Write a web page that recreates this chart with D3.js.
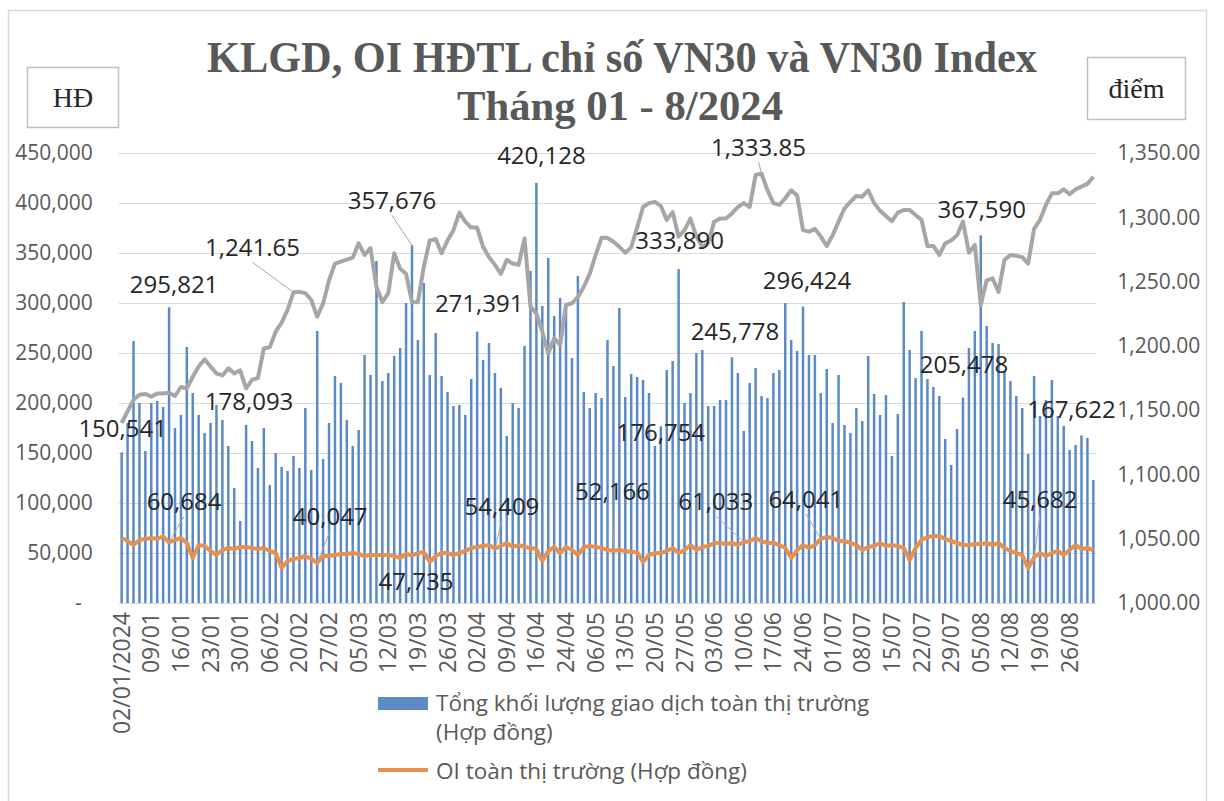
<!DOCTYPE html>
<html><head><meta charset="utf-8">
<script src="https://cdn.jsdelivr.net/npm/d3@7"></script>
<style>
html,body{margin:0;padding:0;background:#fff;}
svg{display:block;}
</style></head>
<body>
<svg id="chart" width="1224" height="801"></svg>
<script>
// ---------- DATA ----------
const months = [
  ["01", ["02","03","04","05","08","09","10","11","12","15","16","17","18","19","22","23","24","25","26","29","30","31"]],
  ["02", ["01","02","05","06","07","15","16","19","20","21","22","23","26","27","28","29"]],
  ["03", ["01","04","05","06","07","08","11","12","13","14","15","18","19","20","21","22","25","26","27","28","29"]],
  ["04", ["01","02","03","04","05","08","09","10","11","12","15","16","17","19","22","23","24","25","26"]],
  ["05", ["02","03","06","07","08","09","10","13","14","15","16","17","20","21","22","23","24","27","28","29","30","31"]],
  ["06", ["03","04","05","06","07","10","11","12","13","14","17","18","19","20","21","24","25","26","27","28"]],
  ["07", ["01","02","03","04","05","08","09","10","11","12","15","16","17","18","19","22","23","24","25","26","29","30","31"]],
  ["08", ["01","02","05","06","07","08","09","12","13","14","15","16","19","20","21","22","23","26","27","28","29","30"]]
];
const dates = [];
months.forEach(([m, days]) => days.forEach(d => dates.push(d + "/" + m)));

const tickLabels = ["02/01/2024","09/01","16/01","23/01","30/01","06/02","20/02","27/02","05/03","12/03",
  "19/03","26/03","02/04","09/04","16/04","24/04","06/05","13/05","20/05","27/05","03/06","10/06","17/06",
  "24/06","01/07","08/07","15/07","22/07","29/07","05/08","12/08","19/08","26/08"];

const volume = [
150541,180000,262000,200000,152000,200000,202000,196000,295821,175000,
188000,256000,210000,188000,170000,180000,198000,183000,157000,115000,
82000,178093,162000,135000,175000,118000,150000,136000,132000,147000,
135000,195000,133000,272000,144000,180000,227000,220000,183000,157000,
173000,248000,228000,342000,222000,230000,247000,255000,300000,357676,
263000,320000,228000,270000,227000,211000,197000,198000,188000,224000,
271391,243000,260000,230000,215000,167000,200000,195000,257000,332000,
420128,297000,345000,287000,305000,295000,245000,327000,211000,195000,
210000,205000,263000,237000,295000,206000,229000,226000,223000,210000,
157000,176754,233000,242000,333890,200000,210000,250000,253000,197000,
197000,203000,203000,245778,230000,172000,220000,235000,207000,205000,
230000,233000,300000,263000,252000,296424,248000,248000,210000,234000,
180000,228000,178000,170000,195000,182000,247000,209000,188000,208000,
147000,189000,301000,253000,225000,272000,224000,216000,207000,164000,
138000,174000,205478,255000,272000,367590,277000,260000,259000,232000,
222000,207000,195000,149000,227000,187000,203000,223000,187000,177000,
153000,158000,167622,165000,123000];

const openInterest = [
65000,62000,58000,63000,64000,65000,64000,66700,60684,63000,
65000,60000,45000,58000,57000,52000,48000,53000,55000,54000,
56000,56000,55000,54000,55000,52000,50000,35000,42000,44000,
45000,47000,44000,40047,47000,47000,48000,49000,49000,50000,
49000,47000,48000,48000,48000,48000,47000,45000,49000,47735,
50000,51000,41000,47000,50000,50000,48000,50000,52000,55000,
56000,57000,58000,54409,57000,60000,56000,58000,56000,55000,
54000,42000,52000,56000,50000,56000,53000,48000,56000,57000,
56000,55000,53000,52166,53000,52000,51000,51000,41000,48000,
50000,50000,52000,55000,50000,53000,58000,53000,56000,57000,
60000,60000,59000,60000,58000,61033,61700,65000,61700,60000,
60000,58000,55000,45000,52700,58000,55000,58000,64041,66000,
65000,62000,62000,60000,58000,53000,56000,57000,60000,57000,
58000,57000,55000,43000,55000,63000,66000,67000,67000,64000,
62000,60000,58000,58000,59000,59000,60000,58000,60000,55000,
52000,50000,48000,35000,45682,50000,47000,50000,52000,48000,
53000,58000,54000,55000,53000];

const vn30 = [
1140,1149,1158,1162,1162.6,1160.5,1163,1163,1163.6,1161,
1168,1167,1176,1184,1189.5,1184,1178.6,1177,1182.5,1178.6,
1181,1167,1173.5,1175,1198,1199,1211,1218,1228,1241.65,
1242,1241,1235.7,1222.7,1233,1251,1264,1265.5,1267,1268.6,
1279.7,1270.7,1276,1246,1234,1241,1272,1260,1256,1234,
1234,1261.6,1282,1283,1272,1282,1290,1303.6,1296.6,1292,
1292,1277,1269,1263,1256,1267,1264,1263,1283.6,1230.5,
1225,1211,1194,1206,1200.7,1232,1233,1238,1246,1256,
1270.7,1284,1284,1281,1277,1272.5,1276.6,1292,1308,1311,
1312,1308.8,1298,1304,1285,1290,1299,1285,1277,1280,
1296.6,1299,1299,1303,1308,1311,1308,1333,1333.85,1321,
1311,1309.6,1314.8,1321,1317,1290,1288.8,1291,1285,1277.7,
1286,1296.6,1307,1312,1316.6,1316,1321,1311,1305,1301,
1297,1303.6,1305.7,1305.7,1301.8,1298,1277.7,1277.7,1270.7,1279.7,
1282,1286,1296.6,1272.5,1278.5,1231.8,1251,1252.5,1242,1266.8,
1270.7,1270,1269,1264,1291,1298,1309.6,1318.6,1318.6,1321.7,
1318,1321.7,1323.8,1326,1331.6];

const leftTicks = [0,50000,100000,150000,200000,250000,300000,350000,400000,450000];
const rightTicks = [1000,1050,1100,1150,1200,1250,1300,1350];

// data labels: series, index into the series (values come from the arrays)
const labeledVolume = [0,8,21,49,60,70,91,94,103,115,142,145,162];
const labeledOI = [8,33,49,63,83,105,118,154];
const labeledVN30 = [29,108];

// ---------- LAYOUT / STYLE ----------
const C = {bar:"#5b8ac5", oi:"#e6914e", vn:"#a6a6a6", grid:"#d9d9d9", axisText:"#595959", label:"#262626"};
const plot = {left:118.7, right:1096.3, top:153, bottom:603};
// label offsets relative to their data point (dx, dy to baseline, leader line?)
const labelLayout = {
  volume: {0:[1,-15],8:[5,-14],21:[3,-15],49:[-20,-36,true],60:[2,-20],70:[5,-19],91:[0,15],94:[1,-20],
           103:[3,-17],115:[4,-18],142:[1,-25],145:[1,-17],162:[-10,-17]},
  oi: {8:[15,-32,true],33:[13,-38,true],49:[4,35],63:[7,-34,true],83:[-1,-51,true],105:[-28,-32,true],
       118:[-15,-31,true],154:[6,-49,true]},
  vn: {29:[-41,-36,true],108:[-3,-18,true]}
};

const svg = d3.select("#chart");

const x = d3.scaleBand().domain(dates).range([plot.left, plot.right]).paddingInner(0).paddingOuter(0);
const cx = d => x(d) + x.bandwidth()/2;
const yL = d3.scaleLinear().domain([0,450000]).range([plot.bottom, plot.top]);
const yR = d3.scaleLinear().domain([1000,1350]).range([plot.bottom, plot.top]);

// outer frame
svg.append("rect").attr("x",8.5).attr("y",10.5).attr("width",1198).attr("height",800)
  .attr("fill","#fff").attr("stroke","#d9d9d9").attr("stroke-width",1.5);

// title
const title = svg.append("g").attr("font-family","'Liberation Serif','Times New Roman',serif")
  .attr("font-weight","bold").attr("fill","#595959").attr("text-anchor","middle");
title.append("text").attr("x",622).attr("y",72).attr("font-size",44)
  .attr("textLength",830).attr("lengthAdjust","spacingAndGlyphs")
  .text("KLGD, OI HĐTL chỉ số VN30 và VN30 Index");
title.append("text").attr("x",620).attr("y",120).attr("font-size",42)
  .attr("textLength",326).attr("lengthAdjust","spacingAndGlyphs")
  .text("Tháng 01 - 8/2024");

// unit boxes
function unitBox(x0,y0,w,h,label){
  svg.append("rect").attr("x",x0).attr("y",y0).attr("width",w).attr("height",h)
    .attr("fill","#fff").attr("stroke","#bfbfbf").attr("stroke-width",1.5);
  svg.append("text").attr("x",x0+w/2).attr("y",y0+h/2).attr("dy","0.35em")
    .attr("text-anchor","middle").attr("font-family","'Liberation Serif','Times New Roman',serif")
    .attr("font-size",28).attr("fill","#262626").text(label);
}
unitBox(27.5,67.5,91,60,"HĐ");
unitBox(1087.5,57.5,98,62,"điểm");

// gridlines
svg.append("g").attr("transform",`translate(${plot.left},0)`)
  .call(d3.axisLeft(yL).tickValues(leftTicks).tickSize(-(plot.right-plot.left)).tickFormat(""))
  .call(g=>g.select(".domain").remove())
  .call(g=>g.selectAll("line").attr("stroke",C.grid).attr("stroke-width",1.2));

// left axis labels
svg.append("g").attr("transform",`translate(${plot.left},0)`)
  .call(d3.axisLeft(yL).tickValues(leftTicks).tickSize(0).tickPadding(26)
    .tickFormat(v => v===0 ? "-" : d3.format(",")(v)))
  .call(g=>g.select(".domain").remove())
  .call(g=>g.selectAll("text").attr("fill",C.axisText).attr("font-size",21)
    .attr("font-family","'Open Sans',sans-serif")
    .attr("dx",v=> v===0 ? -11 : 0));

// right axis labels
svg.append("g").attr("transform",`translate(${plot.right},0)`)
  .call(d3.axisRight(yR).tickValues(rightTicks).tickSize(0).tickPadding(21).tickFormat(d3.format(",.2f")))
  .call(g=>g.select(".domain").remove())
  .call(g=>g.selectAll("text").attr("fill",C.axisText).attr("font-size",21)
    .attr("font-family","'Open Sans',sans-serif"));

// bottom axis labels
const tickMap = new Map(tickLabels.map(t => [t.slice(0,5), t]));
svg.append("g").attr("transform",`translate(0,${plot.bottom})`)
  .call(d3.axisBottom(x).tickValues(dates.filter(d=>tickMap.has(d))).tickSize(0).tickFormat(d=>tickMap.get(d)))
  .call(g=>g.select(".domain").remove())
  .call(g=>g.selectAll("text").attr("transform","rotate(-90)").attr("x",-9).attr("y",0)
    .attr("dy","0.35em").attr("text-anchor","end").attr("fill",C.axisText)
    .attr("font-size",23).attr("font-family","'Open Sans',sans-serif"));

// bars
const bw = x.bandwidth()*0.42;
svg.append("g").selectAll("rect").data(volume).join("rect")
  .attr("x",(v,i)=>cx(dates[i])-bw/2).attr("width",bw)
  .attr("y",v=>yL(v)).attr("height",v=>yL(0)-yL(v)).attr("fill",C.bar);

// lines
const lineL = d3.line().x((v,i)=>cx(dates[i])).y(v=>yL(v));
const lineR = d3.line().x((v,i)=>cx(dates[i])).y(v=>yR(v));
svg.append("path").datum(openInterest).attr("d",lineL).attr("fill","none")
  .attr("stroke",C.oi).attr("stroke-width",4).attr("stroke-linejoin","round");
svg.append("path").datum(vn30).attr("d",lineR).attr("fill","none")
  .attr("stroke",C.vn).attr("stroke-width",4).attr("stroke-linejoin","round");

// data labels
const lab = svg.append("g").attr("font-family","'Open Sans',sans-serif").attr("font-size",24)
  .attr("fill",C.label).attr("text-anchor","middle");
function addLabels(indices, values, scale, layout, fmt){
  indices.forEach(i=>{
    const px = cx(dates[i]), py = scale(values[i]);
    const [dx,dy,leader] = layout[i];
    const lx = px+dx, ly = py+dy;
    if(leader){
      svg.append("line").attr("x1",lx).attr("y1",ly+6).attr("x2",px).attr("y2",py)
        .attr("stroke","#a6a6a6").attr("stroke-width",1);
    }
    lab.append("text").attr("x",lx).attr("y",ly).text(fmt(values[i]));
  });
}
addLabels(labeledVolume, volume, yL, labelLayout.volume, d3.format(","));
addLabels(labeledOI, openInterest, yL, labelLayout.oi, d3.format(","));
addLabels(labeledVN30, vn30, yR, labelLayout.vn, d3.format(",.2f"));
lab.raise();

// legend
const lg = svg.append("g").attr("font-family","'Open Sans',sans-serif").attr("font-size",22.5).attr("fill",C.axisText);
lg.append("rect").attr("x",378).attr("y",697).attr("width",50).attr("height",13).attr("fill",C.bar);
lg.append("text").attr("x",436).attr("y",711).text("Tổng khối lượng giao dịch toàn thị trường");
lg.append("text").attr("x",436).attr("y",740).text("(Hợp đồng)");
lg.append("line").attr("x1",378).attr("x2",428).attr("y1",770).attr("y2",770).attr("stroke",C.oi).attr("stroke-width",4);
lg.append("text").attr("x",436).attr("y",779).text("OI toàn thị trường (Hợp đồng)");
</script>
</body></html>
